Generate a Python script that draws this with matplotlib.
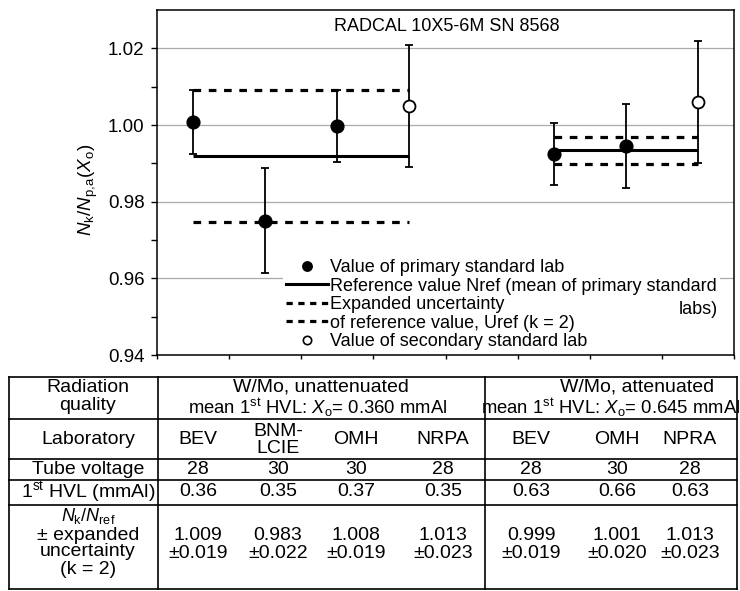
import matplotlib
matplotlib.use('Agg')
import matplotlib.pyplot as plt
from matplotlib.lines import Line2D
import numpy as np

plt.rcParams['font.family'] = ['Liberation Sans', 'DejaVu Sans']
plt.rcParams['mathtext.fontset'] = 'custom'
plt.rcParams['mathtext.rm'] = 'Liberation Sans'
plt.rcParams['mathtext.it'] = 'Liberation Sans:italic'
plt.rcParams['mathtext.bf'] = 'Liberation Sans:bold'
plt.rcParams['lines.scale_dashes'] = False

# ---------------- data ----------------
title = 'RADCAL 10X5-6M SN 8568'
labs_unatt = ['BEV', 'BNM-\nLCIE', 'OMH', 'NRPA']
labs_att = ['BEV', 'OMH', 'NPRA']
pos_unatt = [0.5, 1.5, 2.5, 3.5]
pos_att = [5.5, 6.5, 7.5]
ratio_unatt = [1.0008, 0.9750, 0.9997, 1.0050]
err_unatt = [0.0083, 0.0137, 0.0093, 0.0159]
ratio_att = [0.9924, 0.9945, 1.0061]
err_att = [0.0080, 0.0110, 0.0159]
secondary_unatt = [False, False, False, True]
secondary_att = [False, False, True]
nref_unatt = 0.9918
uref_unatt = 0.0172
nref_att = 0.9934
uref_att = 0.0035

tube_unatt = ['28', '30', '30', '28']
tube_att = ['28', '30', '28']
hvl_unatt = ['0.36', '0.35', '0.37', '0.35']
hvl_att = ['0.63', '0.66', '0.63']
nk_unatt = ['1.009', '0.983', '1.008', '1.013']
unc_unatt = ['0.019', '0.022', '0.019', '0.023']
nk_att = ['0.999', '1.001', '1.013']
unc_att = ['0.019', '0.020', '0.023']
yticks_major = [0.94, 0.96, 0.98, 1.00, 1.02]
yticks_minor = [0.95, 0.97, 0.99, 1.01]

# ---------------- figure ----------------
W, H = 740, 591
fig = plt.figure(figsize=(W / 100, H / 100), dpi=100)
ax = fig.add_axes([157 / W, 1 - 355 / H, 577 / W, 345 / H])
ax.set_xlim(0, 8)
ax.set_ylim(0.94, 1.03)

groups = [
    (pos_unatt, ratio_unatt, err_unatt, secondary_unatt, nref_unatt, uref_unatt),
    (pos_att, ratio_att, err_att, secondary_att, nref_att, uref_att),
]
for pos, val, err, sec, nref, uref in groups:
    xr = [pos[0], pos[-1]]
    ax.plot(xr, [nref, nref], color='k', lw=2.2, zorder=3, solid_capstyle='butt')
    for s in (1, -1):
        ax.plot(xr, [nref + s * uref] * 2, color='k', lw=2.3,
                dashes=(5.5, 5.5), zorder=3, dash_capstyle='butt')
    ax.errorbar(pos, val, yerr=err, fmt='none', ecolor='k', elinewidth=1.3,
                capsize=3, capthick=1.3, zorder=4)
    xp = [p for p, s in zip(pos, sec) if not s]
    yp = [v for v, s in zip(val, sec) if not s]
    xs_ = [p for p, s in zip(pos, sec) if s]
    ys_ = [v for v, s in zip(val, sec) if s]
    ax.plot(xp, yp, 'o', ms=9.2, color='k', zorder=5)
    ax.plot(xs_, ys_, 'o', ms=8.6, mfc='white', mec='k', mew=1.3, zorder=5)

ax.set_yticks(yticks_major)
ax.set_yticks(yticks_minor, minor=True)
ax.set_yticklabels([f'{v:.2f}' for v in yticks_major])
ax.set_xticks(range(9))
ax.set_xticklabels([])
ax.tick_params(axis='y', which='both', direction='out', length=4, width=1,
               labelsize=13.5, pad=5)
ax.tick_params(axis='x', which='both', direction='out', length=3, width=1)
ax.yaxis.grid(True, which='major', color='#ababab', lw=0.9)
ax.set_axisbelow(True)
for sp in ax.spines.values():
    sp.set_linewidth(1.1)

ax.set_ylabel(r'$N_{\mathrm{k}}/N_{\mathrm{p,\!a}}(X_{\mathrm{o}})$', fontsize=13.5)
ax.yaxis.set_label_coords(-0.099, 0.478)

ax.text(0.503, 0.951, title, transform=ax.transAxes, ha='center', va='center',
        fontsize=13)

handles = [
    Line2D([], [], ls='none', marker='o', ms=6.8, color='k'),
    Line2D([], [], color='k', lw=2.2),
    Line2D([], [], color='k', lw=2.3, dashes=(4.5, 4)),
    Line2D([], [], color='k', lw=2.3, dashes=(4.5, 4)),
    Line2D([], [], ls='none', marker='o', ms=6, mfc='white', mec='k', mew=1.2),
]
labels = [
    'Value of primary standard lab',
    'Reference value Nref (mean of primary standard',
    'Expanded uncertainty',
    'of reference value, Uref (k = 2)',
    'Value of secondary standard lab',
]
leg = ax.legend(handles, labels, loc='lower left', bbox_to_anchor=(0.218, 0.004),
                borderaxespad=0, borderpad=0.2, fontsize=13, labelspacing=0.08,
                handlelength=2.3, handletextpad=0.1, frameon=True, fancybox=False,
                framealpha=1, facecolor='white', edgecolor='none')
ax.text(0.972, 0.133, 'labs)', transform=ax.transAxes, ha='right', va='center',
        fontsize=13, zorder=6)

# ---------------- table ----------------
tax = fig.add_axes([0, 0, 1, 1])
tax.set_xlim(0, W)
tax.set_ylim(H, 0)
tax.axis('off')

col_x = [9, 158, 485, 737]
row_y = [377, 419, 459, 480, 505, 589]
for y in row_y:
    tax.plot([col_x[0], col_x[-1]], [y, y], color='k', lw=1.2)
for x in col_x:
    tax.plot([x, x], [row_y[0], row_y[-1]], color='k', lw=1.2)

FS = 14
cx_label = 88
cx_unatt = [198, 278, 356, 443]
cx_att = [531, 617, 690]


def t(x, y, s, fs=FS, **kw):
    tax.text(x, y, s, ha='center', va='center', fontsize=fs, **kw)


# row 1
t(cx_label, 388, 'Radiation')
t(cx_label, 406, 'quality')
t(321, 387, 'W/Mo, unattenuated')
t(318, 408, r'mean 1$^{\mathrm{st}}$ HVL: $X_{\mathrm{o}}$= 0.360 mmAl', fs=13.3)
t(637, 387, 'W/Mo, attenuated')
t(611, 408, r'mean 1$^{\mathrm{st}}$ HVL: $X_{\mathrm{o}}$= 0.645 mmAl', fs=13.3)

# row 2
t(cx_label, 440, 'Laboratory')
for x, s in zip(cx_unatt + cx_att, labs_unatt + labs_att):
    t(x, 440, s, linespacing=0.95)

# row 3
t(cx_label, 469, 'Tube voltage')
for x, s in zip(cx_unatt + cx_att, tube_unatt + tube_att):
    t(x, 469, s)

# row 4
t(cx_label, 492, r'1$^{\mathrm{st}}$ HVL (mmAl)')
for x, s in zip(cx_unatt + cx_att, hvl_unatt + hvl_att):
    t(x, 492, s)

# row 5
t(cx_label, 516, r'$N_{\mathrm{k}}/N_{\mathrm{ref}}$', fs=13)
t(cx_label, 535, '± expanded')
t(cx_label, 552, 'uncertainty')
t(cx_label, 570, '(k = 2)')
for x, a, b in zip(cx_unatt + cx_att, nk_unatt + nk_att, unc_unatt + unc_att):
    t(x, 536, a)
    t(x, 553, '±' + b)

fig.savefig('out.png', dpi=100)
